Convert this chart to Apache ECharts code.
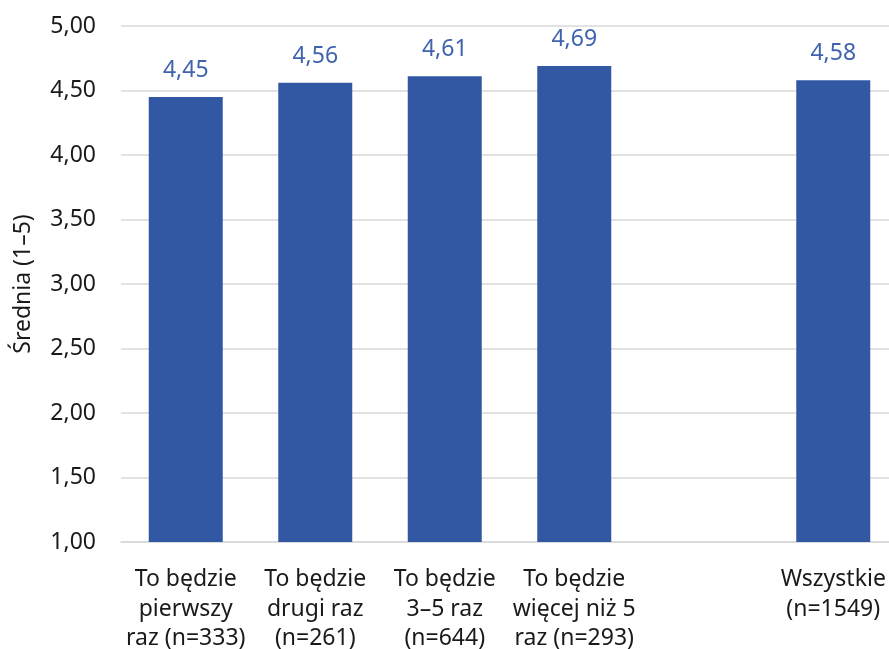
<!DOCTYPE html>
<html>
<head>
<meta charset="utf-8">
<script src="https://cdn.jsdelivr.net/npm/echarts@6/dist/echarts.min.js"></script>
<style>html,body{margin:0;padding:0;background:#fff}#c{width:889px;height:649px}</style>
</head>
<body>
<div id="c"></div>
<script>
const categories = [
  "To będzie\npierwszy\nraz (n=333)",
  "To będzie\ndrugi raz\n(n=261)",
  "To będzie\n3–5 raz\n(n=644)",
  "To będzie\nwięcej niż 5\nraz (n=293)",
  "",
  "Wszystkie\n(n=1549)"
];
const values = [4.45, 4.56, 4.61, 4.69, null, 4.58];
const yTicks = { min: 1, max: 5, interval: 0.5 };
const yTitle = "Średnia (1–5)";

const FONT = "Noto Sans";
const fmt = v => v.toFixed(2).replace('.', ',');
const chart = echarts.init(document.getElementById('c'));
chart.setOption({
  animation: false,
  grid: { left: 121, width: 777, top: 26, height: 516, containLabel: false, outerBoundsMode: 'none' },
  xAxis: {
    type: 'category',
    data: categories,
    axisLine: { show: true, lineStyle: { color: '#d9d9d9', width: 1.5 } },
    axisTick: { show: false },
    axisLabel: { color: '#1a1a1a', fontFamily: FONT, fontSize: 23, lineHeight: 29.5, margin: 23, interval: 0 }
  },
  yAxis: {
    type: 'value',
    min: yTicks.min, max: yTicks.max, interval: yTicks.interval,
    name: yTitle,
    nameLocation: 'middle',
    nameGap: 86,
    nameRotate: 90,
    nameTextStyle: { color: '#1a1a1a', fontFamily: FONT, fontSize: 23 },
    axisLine: { show: false },
    axisTick: { show: false },
    splitLine: { lineStyle: { color: '#d9d9d9', width: 1.5 } },
    axisLabel: { color: '#1a1a1a', fontFamily: FONT, fontSize: 23, margin: 25, formatter: fmt }
  },
  series: [{
    type: 'bar',
    data: values,
    barWidth: 74,
    itemStyle: { color: '#3358A3' },
    label: {
      show: true, position: 'top', distance: 15,
      color: '#3F63AE', fontFamily: FONT, fontSize: 23,
      formatter: p => fmt(p.value)
    }
  }]
});
</script>
</body>
</html>
